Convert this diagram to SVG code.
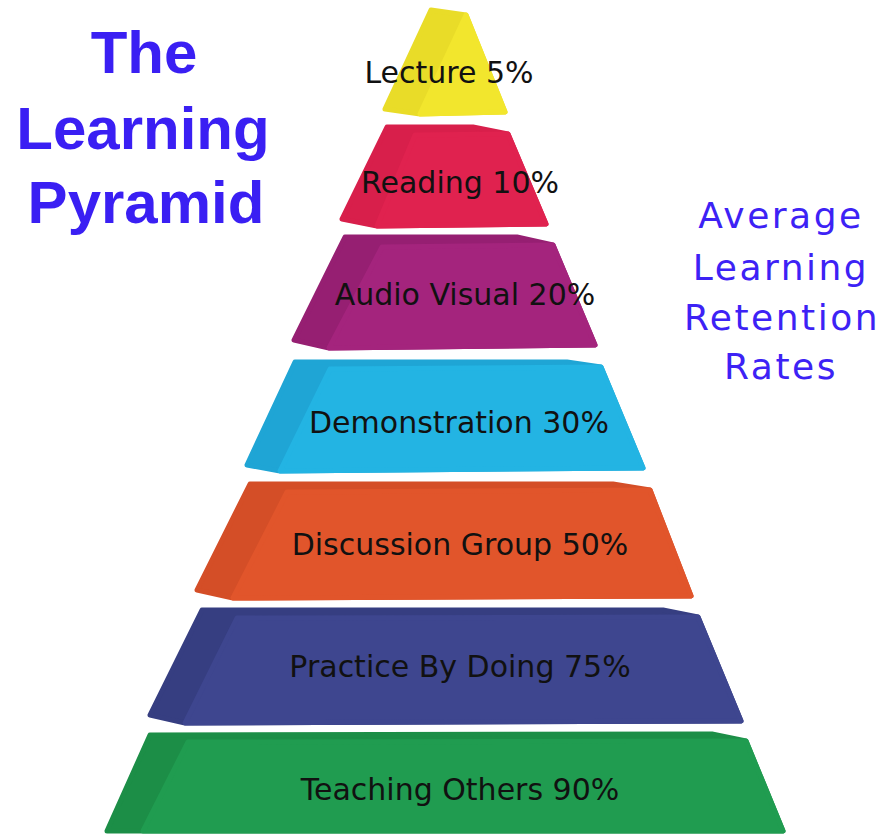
<svg xmlns="http://www.w3.org/2000/svg" width="883" height="836" viewBox="0 0 883 836">
<style>
.o{stroke-width:5;stroke-linejoin:round}
.lbl{font-family:"DejaVu Sans","Liberation Sans",sans-serif;font-size:30px;fill:#111111;text-anchor:middle}
.title{font-family:"Liberation Sans",Arial,sans-serif;font-weight:bold;font-size:60px;fill:#3a1ff3;text-anchor:middle}
.sub{font-family:"DejaVu Sans","Liberation Sans",sans-serif;font-size:36px;letter-spacing:2.5px;fill:#3d22f5;text-anchor:middle}
</style>
<rect width="883" height="836" fill="#ffffff"/>
<g id="title">
<text class="title" x="144" y="73">The</text>
<text class="title" x="143" y="149">Learning</text>
<text class="title" x="146" y="223">Pyramid</text>
</g>
<g id="subtitle">
<text class="sub" x="781" y="228">Average</text>
<text class="sub" x="781" y="280">Learning</text>
<text class="sub" x="782" y="330">Retention</text>
<text class="sub" x="781" y="379">Rates</text>
</g>
<g id="tier-lecture">
<path class="o" d="M431,10 L466,15 L505,112 L420,114 L385,109 Z" fill="#e9dc28" stroke="#e9dc28"/>
<path class="o" d="M466,15 L505,112 L420,114 Z" fill="#f2e62d" stroke="#f2e62d"/>
<text class="lbl" x="449" y="83">Lecture 5%</text>
</g>
<g id="tier-reading">
<path class="o" d="M387,127 L473,127 L508,134 L546,224 L377,226 L342,219 Z" fill="#d81f4b" stroke="#d81f4b"/>
<path class="o" d="M415,135 L508,134 L546,224 L377,226 Z" fill="#e0224f" stroke="#e0224f"/>
<text class="lbl" x="460" y="193">Reading 10%</text>
</g>
<g id="tier-audio">
<path class="o" d="M345,237 L517,237 L553,245 L595,345 L329,348 L294,340 Z" fill="#961f72" stroke="#961f72"/>
<path class="o" d="M382,247 L553,245 L595,345 L329,348 Z" fill="#a4247d" stroke="#a4247d"/>
<text class="lbl" x="465" y="305">Audio Visual 20%</text>
</g>
<g id="tier-demonstration">
<path class="o" d="M295,362 L567,362 L601,367 L643,468 L280,471 L247,465 Z" fill="#1fa5d5" stroke="#1fa5d5"/>
<path class="o" d="M330,369 L601,367 L643,468 L280,471 Z" fill="#23b4e3" stroke="#23b4e3"/>
<text class="lbl" x="459" y="433">Demonstration 30%</text>
</g>
<g id="tier-discussion">
<path class="o" d="M250,484 L613,484 L650,490 L691,596 L233,598 L197,590 Z" fill="#d44e27" stroke="#d44e27"/>
<path class="o" d="M287,492 L650,490 L691,596 L233,598 Z" fill="#e1552b" stroke="#e1552b"/>
<text class="lbl" x="460" y="555">Discussion Group 50%</text>
</g>
<g id="tier-practice">
<path class="o" d="M202,610 L663,610 L698,617 L741,721 L185,723 L150,715 Z" fill="#363e81" stroke="#363e81"/>
<path class="o" d="M237,618 L698,617 L741,721 L185,723 Z" fill="#3e468f" stroke="#3e468f"/>
<text class="lbl" x="460" y="677">Practice By Doing 75%</text>
</g>
<g id="tier-teaching">
<path class="o" d="M150,735 L712,734 L746,741 L783,831 L107,831 Z" fill="#1c8e47" stroke="#1c8e47"/>
<path class="o" d="M188,742 L746,741 L783,831 L143,831 Z" fill="#209c50" stroke="#209c50"/>
<text class="lbl" x="460" y="800">Teaching Others 90%</text>
</g>
<g id="connectors"/>
</svg>
